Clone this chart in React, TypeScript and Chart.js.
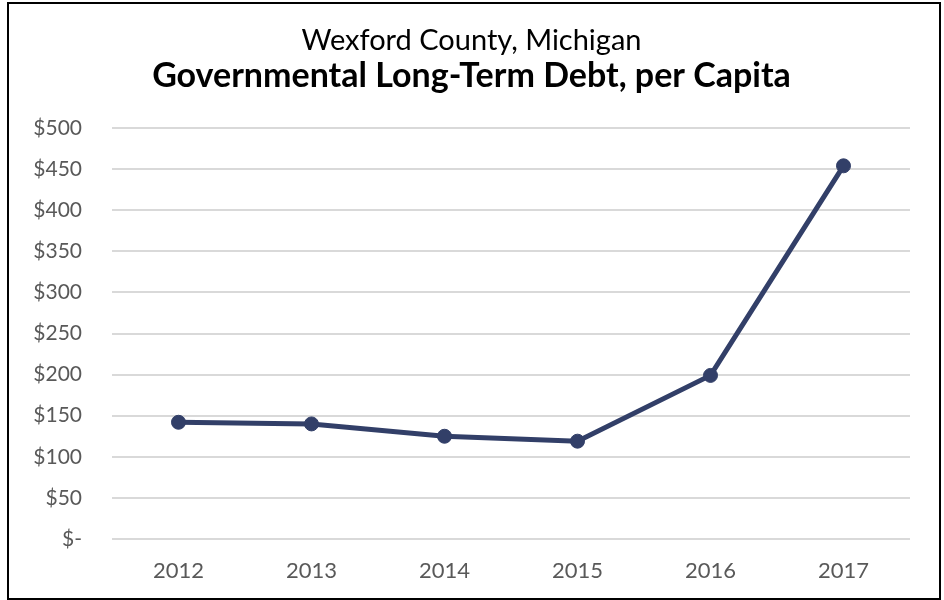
import React, { useEffect, useRef } from "react";
import { Chart, registerables } from "chart.js";

Chart.register(...registerables);

const years = ["2012", "2013", "2014", "2015", "2016", "2017"];
const debtPerCapita = [142, 140, 125, 119, 199, 454];
const yTickValues = [0, 50, 100, 150, 200, 250, 300, 350, 400, 450, 500];
const titleLine1 = "Wexford County, Michigan";
const titleLine2 = "Governmental Long-Term Debt, per Capita";

const FONT = "Lato, 'DejaVu Sans', sans-serif";
const LINE_COLOR = "#323F68";

export default function App() {
  const canvasRef = useRef<HTMLCanvasElement | null>(null);

  useEffect(() => {
    document.body.style.margin = "0";
    const ctx = canvasRef.current;
    if (!ctx) return;
    const chart = new Chart(ctx, {
      type: "line",
      data: {
        labels: years,
        datasets: [
          {
            data: debtPerCapita,
            borderColor: LINE_COLOR,
            backgroundColor: LINE_COLOR,
            borderWidth: 5,
            pointRadius: 7,
            pointHoverRadius: 7,
            pointBackgroundColor: LINE_COLOR,
            pointBorderColor: LINE_COLOR,
            pointBorderWidth: 1,
            tension: 0,
          },
        ],
      },
      options: {
        animation: false,
        responsive: false,
        maintainAspectRatio: false,
        layout: { padding: { left: 33, right: 34, top: 0, bottom: 18 } },
        plugins: {
          legend: { display: false },
          tooltip: { enabled: false },
          title: {
            display: true,
            text: titleLine1,
            color: "#000000",
            font: { family: FONT, size: 29, weight: "normal", lineHeight: 1.2 },
            padding: { top: 23, bottom: 0 },
          },
          subtitle: {
            display: true,
            text: titleLine2,
            color: "#000000",
            font: { family: FONT, size: 34, weight: "bold", lineHeight: 1.05 },
            padding: { top: 0, bottom: 34.5 },
          },
        },
        scales: {
          x: {
            offset: true,
            afterFit: (scale: any) => {
              scale.height = 43;
            },
            grid: { display: false, drawTicks: false },
            border: { display: false },
            ticks: {
              color: "#595959",
              font: { family: FONT, size: 22 },
              padding: 19,
              maxRotation: 0,
            },
          },
          y: {
            min: 0,
            max: 500,
            afterFit: (scale: any) => {
              scale.width = 79;
            },
            afterBuildTicks: (scale: any) => {
              scale.ticks = yTickValues.map((v) => ({ value: v }));
            },
            grid: { color: "#D9D9D9", lineWidth: 2, drawTicks: false },
            border: { display: false },
            ticks: {
              color: "#595959",
              font: { family: FONT, size: 21 },
              padding: 30,
              callback: (v: any) => (Number(v) === 0 ? "$-" : "$" + v),
            },
          },
        },
      },
    });
    return () => chart.destroy();
  }, []);

  return (
    <div style={{ position: "relative", width: 944, height: 600, background: "#fff", overflow: "hidden" }}>
      <canvas ref={canvasRef} width={944} height={600} style={{ position: "absolute", left: 0, top: 0, width: 944, height: 600 }} />
      <div
        style={{
          position: "absolute",
          left: 7,
          top: 2,
          width: 934,
          height: 598,
          border: "2px solid #000",
          boxSizing: "border-box",
          pointerEvents: "none",
        }}
      />
    </div>
  );
}
